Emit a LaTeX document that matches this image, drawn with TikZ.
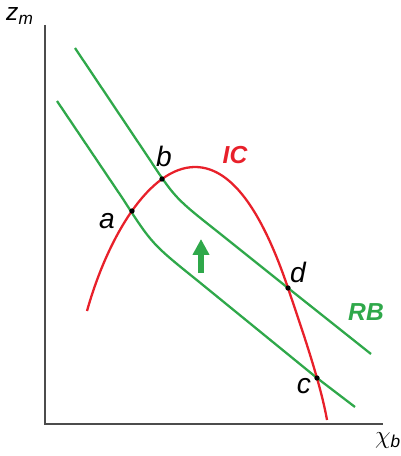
\documentclass[tikz,border=0pt]{standalone}
\usepackage{fontspec}
\setmainfont{Liberation Sans}
\usetikzlibrary{arrows.meta}
\definecolor{curvegreen}{HTML}{2FA84A}
\definecolor{curvered}{HTML}{E8202A}

\begin{document}
\begin{tikzpicture}[x=0.02cm, y=-0.02cm,
  axis/.style={line width=0.8pt, black!70},
  budget/.style={line width=1.3pt, curvegreen},
  indiff/.style={line width=1.3pt, curvered},
  lbl/.style={font=\fontsize{16}{18}\selectfont\itshape, inner sep=1pt},
  arr/.style={-{Triangle[length=9pt,width=9pt]}, line width=3pt, curvegreen}]
\useasboundingbox (0,0) rectangle (401,456);

% axes
\coordinate (top) at (45,25);
\coordinate (orig) at (45,424);
\coordinate (right) at (383,424);
\draw[axis] (top) -- (orig) -- (right);
\node[font=\fontsize{14}{16}\selectfont\itshape] (zm) at (20,16) {z\textsubscript{m}};
\node[font=\fontsize{14}{16}\selectfont\itshape] (xb) at (388,441) {$\chi$\textsubscript{b}};

% intersection points
\coordinate (a) at (132,211);
\coordinate (b) at (162,179);
\coordinate (d) at (288,288);
\coordinate (c) at (317,378);
\coordinate (peak) at (195,167);

% budget lines
\draw[budget] (75,48) -- (148,157) .. controls (175,198) .. (218,232) -- (d) -- (371,354);
\draw[budget] (57,101) -- (123,199) .. controls (152,244) .. (198,281) -- (c) -- (355,407);

% IC curve
\draw[indiff] (87,311) .. controls (108,236) and (150,167) .. (peak)
  .. controls (235,167) and (265,220) .. (d)
  .. controls (298,318) and (320,380) .. (327,420);

% points
\foreach \p in {a,b,c,d} \fill (\p) circle (1.5pt);

% labels
\node[lbl] (la) at (107,221) {a};
\node[lbl] (lb) at (164,156) {b};
\node[lbl] (ld) at (298,272) {d};
\node[lbl] (lc) at (304,386) {c};
\node[font=\fontsize{14}{16}\selectfont\bfseries\itshape, text=curvered] (ic) at (235,155) {IC};
\node[font=\fontsize{14}{16}\selectfont\bfseries\itshape, text=curvegreen] (rb) at (366,312) {RB};

% shift arrow
\coordinate (arrlow) at (201,273);
\coordinate (arrhigh) at (201,239);
\draw[arr] (arrlow) -- (arrhigh);
\end{tikzpicture}
\end{document}
